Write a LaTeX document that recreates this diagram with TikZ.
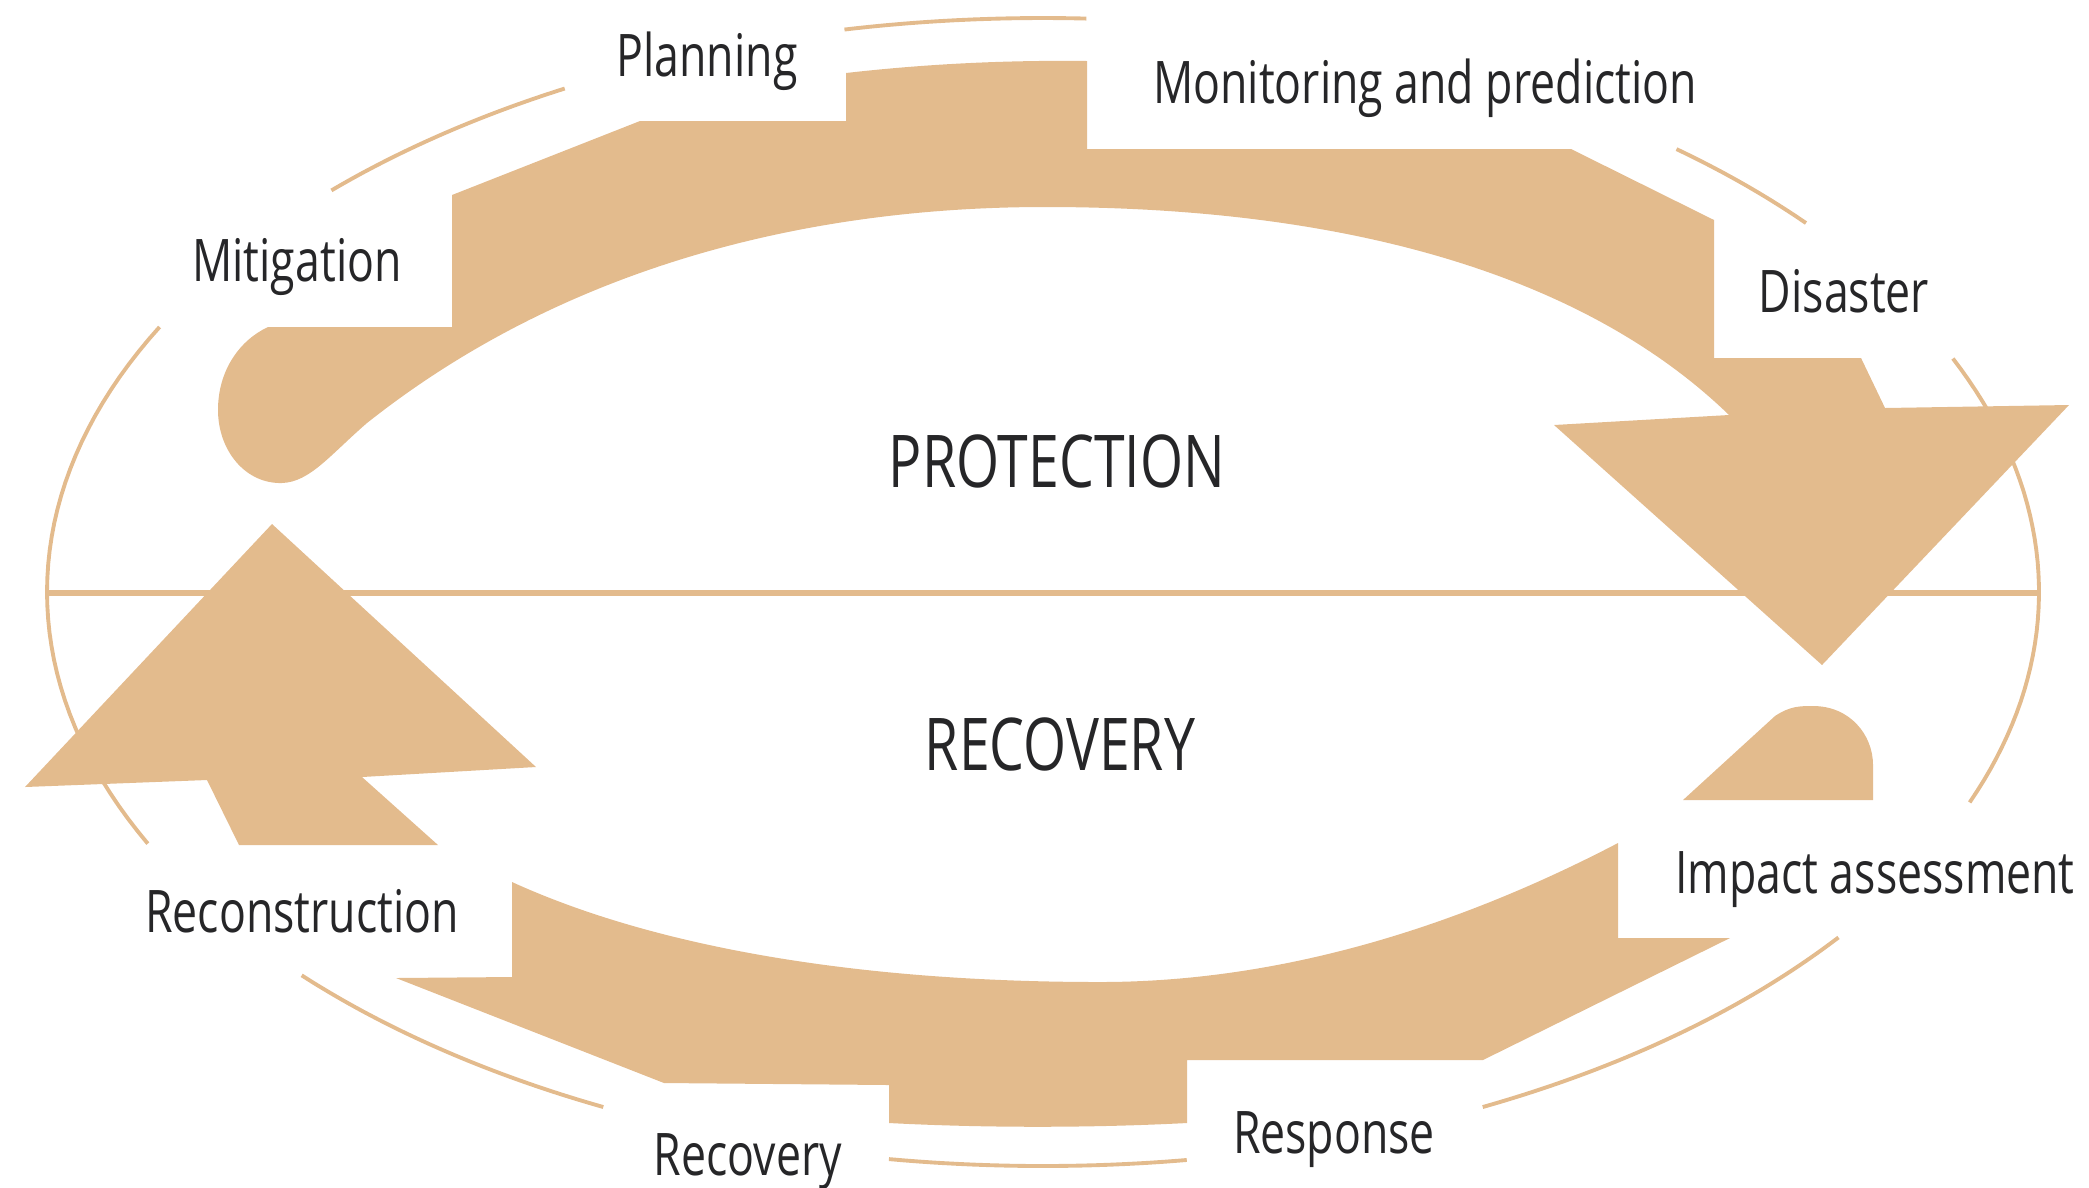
\documentclass[tikz,border=0pt]{standalone}
\usepackage{fontspec}
\setmainfont{Open Sans}[FakeStretch=0.76]
\definecolor{tan}{RGB}{227,187,141}
\definecolor{ink}{RGB}{38,38,40}
\begin{document}
\begin{tikzpicture}[x=0.01cm,y=-0.01cm,
	band/.style={fill=tan,draw=none},
	rim/.style={draw=tan,line width=1.1pt},
	lbl/.style={anchor=base,inner sep=0pt,text=ink,font=\fontsize{16.7}{20}\selectfont},
	big/.style={anchor=base,inner sep=0pt,text=ink,font=\fontsize{20.7}{24}\selectfont}]
	\useasboundingbox (0,0) rectangle (2089,1187);
	\foreach \a/\b in {-101.5/-87.5,-135.6/-118.7,154/207.5,116.2/138.1,81.7/98.9,37/63.8,-24/21.5,-50.5/-40}
		\draw[rim,domain=\a:\b,samples=40] plot ({1043+996*cos(\x)},{592+574*sin(\x)});
	\draw[tan,line width=1.6pt] (49,593)--(2037,593);
	\fill[band] (282,483) .. controls (245,484) and (218,450) .. (218,410) .. controls (218,370) and (240,340) .. (268,327)
		--(452,327)--(452,195)--(640,121)--(846,121)--(846,73) .. controls (925,64) and (1005,60) .. (1087,61)
		--(1087,149)--(1571,149)--(1714,220)--(1714,358)--(1861,358)--(1885,408)--(2069,405)--(1822,665)--(1554,425)--(1729,415)
		.. controls (1600,290) and (1380,207) .. (1045,207) .. controls (800,207) and (560,270) .. (367,423)
		.. controls (330,455) and (310,482) .. (282,483)--cycle;
	\fill[band] (396,978)--(512,977)--(512,882) .. controls (650,945) and (850,982) .. (1100,982)
		.. controls (1300,982) and (1480,915) .. (1618,843)--(1618,938)--(1730,938)--(1483,1060)--(1187,1060)--(1187,1123)
		.. controls (1090,1128) and (985,1128) .. (889,1123)--(889,1085)--(664,1083)--cycle;
	\fill[band] (272,524)--(536,767)--(362,777)--(438,845)--(239,845)--(207,780)--(25,787)--cycle;
	\fill[band] (1683,800)--(1775,716) .. controls (1790,706) and (1800,706) .. (1813,706)
		.. controls (1850,706) and (1873,735) .. (1873,765)--(1873,800)--cycle;
	\node[lbl] (plan) at (707,76) {Planning};
	\node[lbl] (mon) at (1425,103) {Monitoring and prediction};
	\node[lbl] (mit) at (297,281) {Mitigation};
	\node[lbl] (dis) at (1844,312) {Disaster};
	\node[big] (prot) at (1057,487) {PROTECTION};
	\node[big] (rec) at (1060,770) {RECOVERY};
	\node[lbl] (recon) at (302,932) {Reconstruction};
	\node[lbl] (imp) at (1875,893) {Impact assessment};
	\node[lbl] (resp) at (1334,1153) {Response};
	\node[lbl] (recov) at (748,1175) {Recovery};
\end{tikzpicture}
\end{document}
